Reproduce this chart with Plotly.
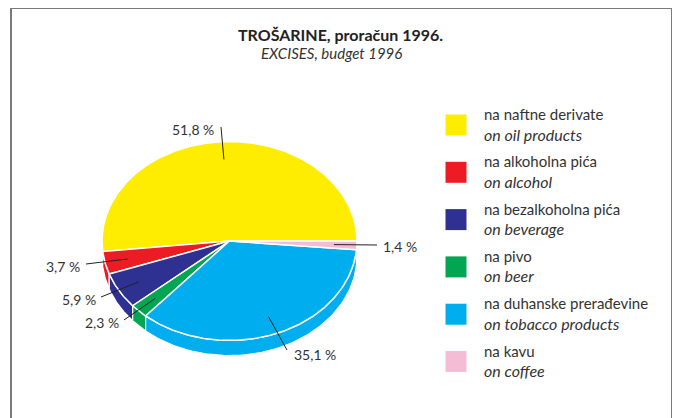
import numpy as np
import plotly.graph_objects as go

# ---------------- data ----------------
categories_hr = ["na naftne derivate", "na alkoholna pića", "na bezalkoholna pića",
                 "na pivo", "na duhanske prerađevine", "na kavu"]
categories_en = ["on oil products", "on alcohol", "on beverage",
                 "on beer", "on tobacco products", "on coffee"]
shares = [51.8, 3.7, 5.9, 2.3, 35.1, 1.4]
share_labels = ["51,8 %", "3,7 %", "5,9 %", "2,3 %", "35,1 %", "1,4 %"]

title_hr = "TROŠARINE, proračun 1996."
title_en = "EXCISES, budget 1996"

# ---------------- style ----------------
colors = ["#FFED00", "#ED1C24", "#2E3192", "#00A651", "#00AEEF", "#F5BCD6"]
FONT = "Lato"
TXT = "#333333"
W, H = 680, 418
OFF = 8  # page body margin
CX, CY, RX, RY, DEPTH = 229.5, 241, 127.5, 99.5, 15
LABEL_R = 0.82
# label anchor (outer end of leader line) and text placement
label_pos = [(221, 127, "right", 216, 129), (86, 264, "right", 82, 266),
             (101, 297, "right", 98, 299), (124, 320, "right", 121, 322),
             (287, 350, "left", 292, 354), (377, 245, "left", 381, 246)]

fig = go.Figure()

vals = np.array(shares, dtype=float)
cum = np.concatenate([[0], np.cumsum(vals)]) / vals.sum() * 360.0


def pt(theta_deg, r=1.0, dy=0.0):
    t = np.radians(theta_deg)
    return CX + RX * r * np.cos(t), CY - RY * r * np.sin(t) + dy


# side walls (front half: 180..360 degrees)
for i in range(len(vals)):
    a1, a2 = max(cum[i], 180.0), min(cum[i + 1], 360.0)
    if a2 <= a1:
        continue
    th = np.linspace(a1, a2, 80)
    xt, yt = pt(th)
    xb, yb = pt(th[::-1], dy=DEPTH)
    xs = np.concatenate([xt, xb, xt[:1]])
    ys = np.concatenate([yt, yb, yt[:1]])
    fig.add_trace(go.Scatter(x=xs, y=ys, fill="toself", fillcolor=colors[i], mode="lines",
                             line=dict(color="white", width=1.2), hoverinfo="skip",
                             showlegend=False))

# top faces
for i in range(len(vals)):
    th = np.linspace(cum[i], cum[i + 1], max(int((cum[i + 1] - cum[i]) * 2), 6))
    xa, ya = pt(th)
    xs = np.concatenate([[CX], xa, [CX]])
    ys = np.concatenate([[CY], ya, [CY]])
    fig.add_trace(go.Scatter(x=xs, y=ys, fill="toself", fillcolor=colors[i], mode="lines",
                             line=dict(color="white", width=1.5), hoverinfo="skip",
                             showlegend=False))

# leader lines and value labels
for i in range(len(vals)):
    mid = (cum[i] + cum[i + 1]) / 2
    xi, yi = pt(mid, r=LABEL_R)
    ox, oy, anchor, tx, ty = label_pos[i]
    fig.add_trace(go.Scatter(x=[xi, ox], y=[yi, oy], mode="lines",
                             line=dict(color="#222222", width=1), hoverinfo="skip",
                             showlegend=False))
    fig.add_annotation(x=tx, y=ty, text=share_labels[i], showarrow=False,
                       xanchor=anchor, yanchor="middle",
                       font=dict(family=FONT, size=14, color=TXT))

# legend (manual)
LEG_X, LEG_Y0, LEG_DY = 456, 125, 47.3
for i in range(len(categories_hr)):
    y = LEG_Y0 + i * LEG_DY
    fig.add_shape(type="rect", x0=LEG_X - 10.5, x1=LEG_X + 10.5, y0=y - 10.5, y1=y + 10.5,
                  fillcolor=colors[i], line=dict(width=0), layer="above")
    fig.add_annotation(x=482, y=y - 11, text=categories_hr[i], showarrow=False,
                       xanchor="left", yanchor="middle",
                       font=dict(family=FONT, size=15, color=TXT))
    fig.add_annotation(x=482, y=y + 9, text="<i>" + categories_en[i] + "</i>",
                       showarrow=False, xanchor="left", yanchor="middle",
                       font=dict(family=FONT, size=16, color=TXT))

# titles
fig.add_annotation(x=340, y=34, text="<b>" + title_hr + "</b>", showarrow=False,
                   xanchor="center", yanchor="middle",
                   font=dict(family=FONT, size=16, color="#222222"))
fig.add_annotation(x=331, y=53, text="<i>" + title_en + "</i>", showarrow=False,
                   xanchor="center", yanchor="middle",
                   font=dict(family=FONT, size=15, color=TXT))

# frame + right shadow
fig.add_shape(type="rect", x0=11, x1=672, y0=8, y1=440,
              line=dict(color="#7a7a7a", width=2), layer="above")
for x0, x1, c in [(673, 675, "#9a9a9a"), (675, 677, "#b8b8b8"), (677, 680, "#d8d8d8")]:
    fig.add_shape(type="rect", x0=x0, x1=x1, y0=22, y1=440, fillcolor=c,
                  line=dict(width=0), layer="above")

# axes spanning the visible page in reference pixel units
fig.update_xaxes(range=[OFF, W + OFF], visible=False, fixedrange=True)
fig.update_yaxes(range=[H + OFF, OFF], visible=False, fixedrange=True)
fig.update_layout(width=W, height=H, margin=dict(l=0, r=0, t=0, b=0),
                  plot_bgcolor="white", paper_bgcolor="white", showlegend=False)

fig.write_html("out.html")
